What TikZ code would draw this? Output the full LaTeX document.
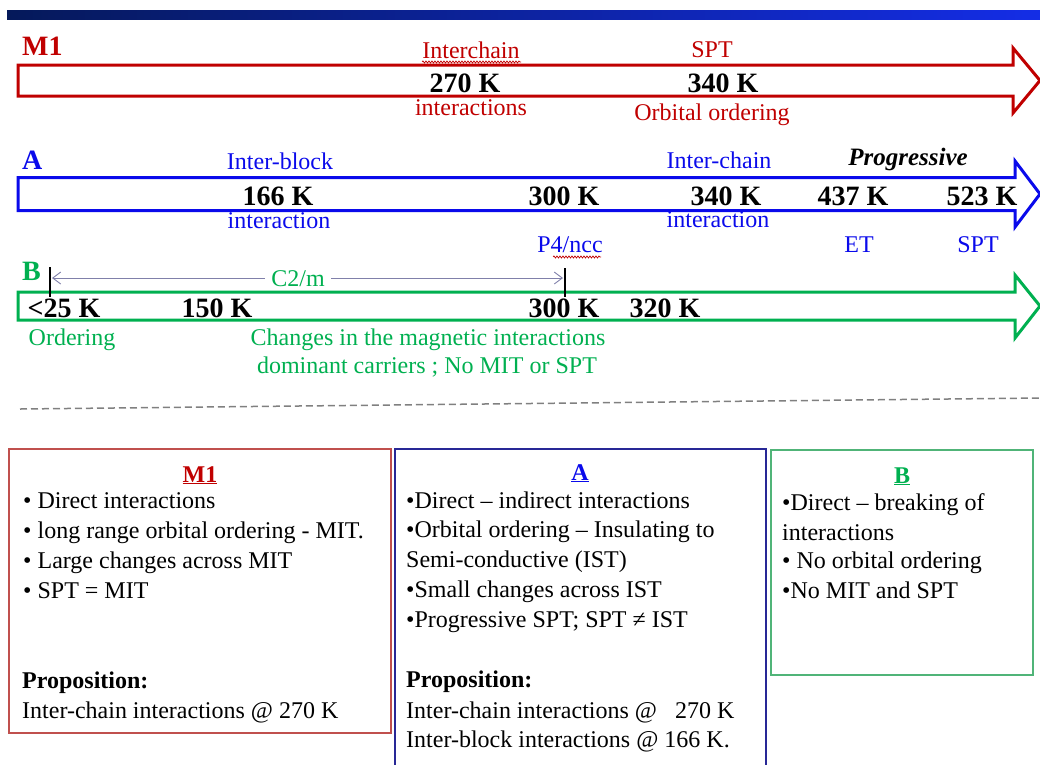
\documentclass[tikz,border=0pt]{standalone}
\usepackage{fontspec}
\setmainfont{Liberation Serif}
\usetikzlibrary{arrows.meta,decorations.pathmorphing}
\definecolor{mred}{RGB}{192,0,0}
\definecolor{ablue}{RGB}{10,10,235}
\definecolor{bgreen}{RGB}{0,176,80}
\definecolor{boxred}{RGB}{192,80,77}
\definecolor{boxblue}{RGB}{40,40,150}
\definecolor{boxgreen}{RGB}{80,180,120}
\definecolor{cgray}{RGB}{128,128,170}
\definecolor{barL}{RGB}{5,25,90}
\definecolor{barR}{RGB}{20,45,230}
\begin{document}
\begin{tikzpicture}[x=1pt,y=-1pt,
  lbl/.style={inner sep=0pt, anchor=base, font=\fontsize{24}{28}\selectfont},
  temp/.style={inner sep=0pt, anchor=base, font=\fontsize{28}{32}\selectfont\bfseries},
  rowname/.style={inner sep=0pt, anchor=base west, font=\fontsize{28}{32}\selectfont\bfseries},
  boxtxt/.style={inner sep=0pt, anchor=base west, font=\fontsize{24}{30}\selectfont},
  boxhead/.style={inner sep=0pt, anchor=base, font=\fontsize{24}{30}\selectfont\bfseries},
  timearrow/.style={line width=3pt, fill=white, miter limit=10},
  squiggle/.style={mred, line width=0.7pt, decorate, decoration={snake, amplitude=1pt, segment length=3pt}}]
\useasboundingbox (0,0) rectangle (1040,764);
% top bar
\shade[left color=barL, right color=barR] (7,10) rectangle (1040,19);

% ---------- M1 arrow ----------
\draw[timearrow, draw=mred] (18,65) -- (1013,65) -- (1013,48) -- (1040,80.5) -- (1013,113) -- (1013,96) -- (18,96) -- cycle;
\node[rowname, mred] (m1name) at (22,55) {M1};
\node[lbl, mred] (m1ic) at (471,58) {Interchain};
\draw[squiggle] (422,62) -- (521,62);
\node[temp] (m1t270) at (465,92) {270 K};
\node[lbl, mred] (m1int) at (471,115) {interactions};
\node[lbl, mred] (m1spt) at (712,57) {SPT};
\node[temp] (m1t340) at (723,92) {340 K};
\node[lbl, mred] (m1oo) at (712,120) {Orbital ordering};

% ---------- A arrow ----------
\draw[timearrow, draw=ablue] (18,177.5) -- (1015,177.5) -- (1015,161) -- (1040,194) -- (1015,227) -- (1015,210.5) -- (18,210.5) -- cycle;
\node[rowname, ablue] (aname) at (22,169) {A};
\node[lbl, ablue] (aib) at (280,169) {Inter-block};
\node[temp] (at166) at (278,205) {166 K};
\node[lbl, ablue] (aint1) at (279,228) {interaction};
\node[temp] (at300) at (564,205) {300 K};
\node[lbl, ablue] (ap4) at (570,252) {P4/ncc};
\draw[squiggle] (553,257) -- (601,257);
\node[lbl, ablue] (aic) at (719,168) {Inter-chain};
\node[temp] (at340) at (726,205) {340 K};
\node[lbl, ablue] (aint2) at (718,227) {interaction};
\node[inner sep=0pt, anchor=base, font=\fontsize{25}{28}\selectfont\bfseries\itshape] (aprog) at (908,165) {Progressive};
\node[temp] (at437) at (853,205) {437 K};
\node[lbl, ablue] (aet) at (859,252) {ET};
\node[temp] (at523) at (982,205) {523 K};
\node[lbl, ablue] (aspt) at (978,252) {SPT};

% ---------- B arrow ----------
\draw[timearrow, draw=bgreen] (18,292) -- (1015,292) -- (1015,275) -- (1040,306) -- (1015,338) -- (1015,320) -- (18,320) -- cycle;
\node[rowname, bgreen] (bname) at (22,280) {B};
\node[temp] (bt25) at (64,317) {<25 K};
\node[temp] (bt150) at (217,317) {150 K};
\node[temp] (bt300) at (564,317) {300 K};
\node[temp] (bt320) at (665,317) {320 K};
\node[lbl, bgreen] (bord) at (72,345) {Ordering};
\node[lbl, bgreen] (bch1) at (428,345) {Changes in the magnetic interactions};
\node[lbl, bgreen] (bch2) at (427,373) {dominant carriers ; No MIT or SPT};
% C2/m range
\coordinate (tickLtop) at (50,267);
\coordinate (tickLbot) at (50,297);
\coordinate (tickRtop) at (565,268);
\coordinate (tickRbot) at (565,297);
\coordinate (rangeL) at (52,278);
\coordinate (rangeR) at (563,278);
\draw[cgray, line width=0.9pt, {Straight Barb[length=8pt,width=12pt]}-{Straight Barb[length=8pt,width=12pt]}] (rangeL) -- (rangeR);
\node[fill=white, inner xsep=6pt, inner ysep=1pt, text=bgreen, font=\fontsize{24}{28}\selectfont] (c2m) at (298,279) {C2/m};
\draw[black, line width=2pt] (tickLtop) -- (tickLbot);
\draw[black, line width=2pt] (tickRtop) -- (tickRbot);

% dashed separator
\draw[gray, line width=1.5pt, dash pattern=on 7pt off 4pt] (20,409) -- (1040,398);

% ---------- boxes ----------
\draw[boxred, line width=1.2pt] (9,449) rectangle (391,733);
\draw[boxblue, line width=1.2pt] (395,449) rectangle (766,780);
\draw[boxgreen, line width=1.2pt] (771,450) rectangle (1033,675);

% M1 box
\node[boxhead, text=mred] (hm1) at (200,482) {\underline{M1}};
\node[boxtxt] (m1l1) at (23,508) {• Direct interactions};
\node[boxtxt] (m1l2) at (23,538) {• long range orbital ordering - MIT.};
\node[boxtxt] (m1l3) at (23,568) {• Large changes across MIT};
\node[boxtxt] (m1l4) at (23,598) {• SPT = MIT};
\node[boxtxt, font=\fontsize{24}{30}\selectfont\bfseries] (m1p) at (22,688) {Proposition:};
\node[boxtxt] (m1p1) at (22,718) {Inter-chain interactions @ 270 K};

% A box
\node[boxhead, text=ablue] (ha) at (580,480) {\underline{A}};
\node[boxtxt] (al1) at (406,508) {•Direct – indirect interactions};
\node[boxtxt] (al2) at (406,537) {•Orbital ordering – Insulating to};
\node[boxtxt] (al3) at (406,567) {Semi-conductive (IST)};
\node[boxtxt] (al4) at (406,597) {•Small changes across IST};
\node[boxtxt] (al5) at (406,627) {•Progressive SPT; SPT ≠ IST};
\node[boxtxt, font=\fontsize{24}{30}\selectfont\bfseries] (ap) at (406,687) {Proposition:};
\node[boxtxt] (ap1) at (406,718) {Inter-chain interactions @ \ \ 270 K};
\node[boxtxt] (ap2) at (406,747) {Inter-block interactions @ 166 K.};

% B box
\node[boxhead, text=bgreen] (hb) at (902,483) {\underline{B}};
\node[boxtxt] (bl1) at (782,510) {•Direct – breaking of};
\node[boxtxt] (bl2) at (782,540) {interactions};
\node[boxtxt] (bl3) at (782,568) {• No orbital ordering};
\node[boxtxt] (bl4) at (782,598) {•No MIT and SPT};
\end{tikzpicture}
\end{document}
